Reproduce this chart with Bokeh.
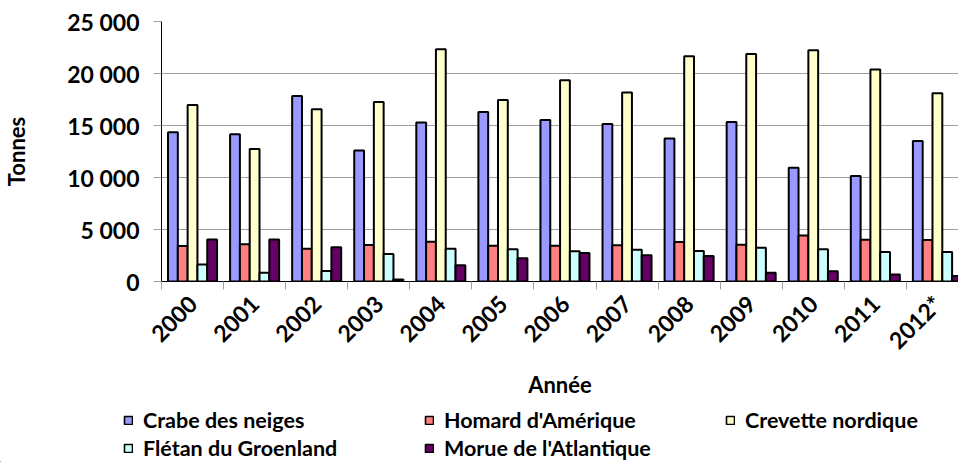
import numpy as np
from bokeh.plotting import figure
from bokeh.layouts import column
from bokeh.models import (ColumnDataSource, Range1d, FixedTicker, CustomJSTickFormatter,
                          Legend, LegendItem)
from bokeh.transform import dodge
from bokeh.embed import file_html
from bokeh.resources import INLINE

years = ["2000", "2001", "2002", "2003", "2004", "2005", "2006", "2007",
         "2008", "2009", "2010", "2011", "2012*"]
crabe = [14350, 14160, 17830, 12600, 15280, 16300, 15540, 15150, 13750, 15340, 10940, 10140, 13520]
homard = [3410, 3570, 3160, 3510, 3830, 3445, 3445, 3480, 3800, 3540, 4430, 4020, 3990]
crevette = [16970, 12730, 16560, 17260, 22330, 17450, 19360, 18180, 21660, 21880, 22230, 20380, 18090]
fletan = [1630, 830, 1020, 2650, 3160, 3090, 2900, 3060, 2930, 3250, 3090, 2840, 2840]
morue = [4050, 4050, 3290, 190, 1560, 2230, 2740, 2520, 2460, 830, 990, 670, 540]

series_names = ["Crabe des neiges", "Homard d'Amérique", "Crevette nordique",
                "Flétan du Groenland", "Morue de l'Atlantique"]
series_keys = ["crabe", "homard", "crevette", "fletan", "morue"]
series_colors = ["#9999FF", "#FF8080", "#FFFFCC", "#CCFFFF", "#660066"]

y_tick_values = [0, 5000, 10000, 15000, 20000, 25000]
y_tick_labels = ["0", "5 000", "10 000", "15 000", "20 000", "25 000"]

FONT = "Lato"

src = ColumnDataSource(dict(
    x=np.arange(len(years)) + 0.5,
    crabe=crabe, homard=homard, crevette=crevette, fletan=fletan, morue=morue,
))

p = figure(width=958, height=400, output_backend="svg", toolbar_location=None,
           x_range=Range1d(0, 12.84), y_range=Range1d(0, 25000),
           min_border_left=160, min_border_right=0, min_border_top=21,
           min_border_bottom=117)
p.frame_align = False
p.outline_line_color = None
p.background_fill_color = "white"
p.border_fill_color = "white"

bw = 0.158
for k, (key, col) in enumerate(zip(series_keys, series_colors)):
    p.vbar(x=dodge("x", (k - 2) * bw, range=p.x_range), top=key, width=bw,
           source=src, fill_color=col, line_color="black", line_width=2)

# x axis
p.xaxis.ticker = FixedTicker(ticks=list(np.arange(len(years)) + 0.5),
                             minor_ticks=list(range(len(years) + 1)))
p.xaxis.formatter = CustomJSTickFormatter(args=dict(labels=years),
                                          code="return labels[Math.floor(tick)] || ''")
p.xaxis.major_label_orientation = np.pi / 4
p.xaxis.major_tick_out = 0
p.xaxis.major_tick_in = 0
p.xaxis.minor_tick_out = 8
p.xaxis.minor_tick_in = 0
p.xaxis.minor_tick_line_color = "#A0A0A0"
p.xaxis.axis_line_color = "black"
p.xaxis.major_label_standoff = 10
p.xaxis.axis_label = "Année"
p.xaxis.axis_label_standoff = 4

# y axis
p.yaxis.ticker = FixedTicker(ticks=y_tick_values)
p.yaxis.formatter = CustomJSTickFormatter(
    args=dict(values=y_tick_values, labels=y_tick_labels),
    code="const i = values.indexOf(tick); return i >= 0 ? labels[i] : ''")
p.yaxis.major_tick_out = 8
p.yaxis.major_tick_in = 0
p.yaxis.minor_tick_line_color = None
p.yaxis.major_tick_line_color = "#A0A0A0"
p.yaxis.axis_line_color = "black"
p.yaxis.major_label_standoff = 14
p.yaxis.axis_label = "Tonnes"
p.yaxis.axis_label_standoff = 34

for ax in (p.xaxis[0], p.yaxis[0]):
    ax.major_label_text_font = FONT
    ax.major_label_text_font_style = "bold"
    ax.major_label_text_font_size = "23px"
    ax.major_label_text_color = "black"
    ax.axis_label_text_font = FONT
    ax.axis_label_text_font_style = "bold"
    ax.axis_label_text_font_size = "22px"
    ax.axis_label_text_color = "black"

p.xgrid.grid_line_color = None
p.ygrid.grid_line_color = "#A0A0A0"
p.ygrid.grid_line_width = 1

# legend in its own strip below the chart
pl = figure(width=958, height=62, output_backend="svg", toolbar_location=None,
            x_range=Range1d(0, 1), y_range=Range1d(0, 1),
            x_axis_type=None, y_axis_type=None,
            min_border_left=0, min_border_right=0, min_border_top=0, min_border_bottom=0)
pl.frame_align = False
pl.grid.visible = False
pl.outline_line_color = None
pl.background_fill_color = "white"
pl.border_fill_color = "white"
items = []
for name, col in zip(series_names, series_colors):
    # placeholder glyph far outside the visible range, only used for the legend swatch
    r = pl.vbar(x=[-50], top=[-10], bottom=[-11], width=0.1,
                fill_color=col, line_color="black", line_width=1.6)
    items.append(LegendItem(label=name, renderers=[r]))

legend = Legend(items=items, orientation="horizontal", ncols=3,
                location=(123, 1),
                glyph_width=10, glyph_height=10, label_standoff=10,
                label_width=279, label_height=16, spacing=2, padding=0, margin=0,
                border_line_color=None, background_fill_alpha=0,
                label_text_font=FONT, label_text_font_style="bold",
                label_text_font_size="21.5px", label_text_color="black")
pl.add_layout(legend, "center")

layout = column(p, pl, spacing=0)
open("out.html", "w").write(file_html(layout, INLINE))
